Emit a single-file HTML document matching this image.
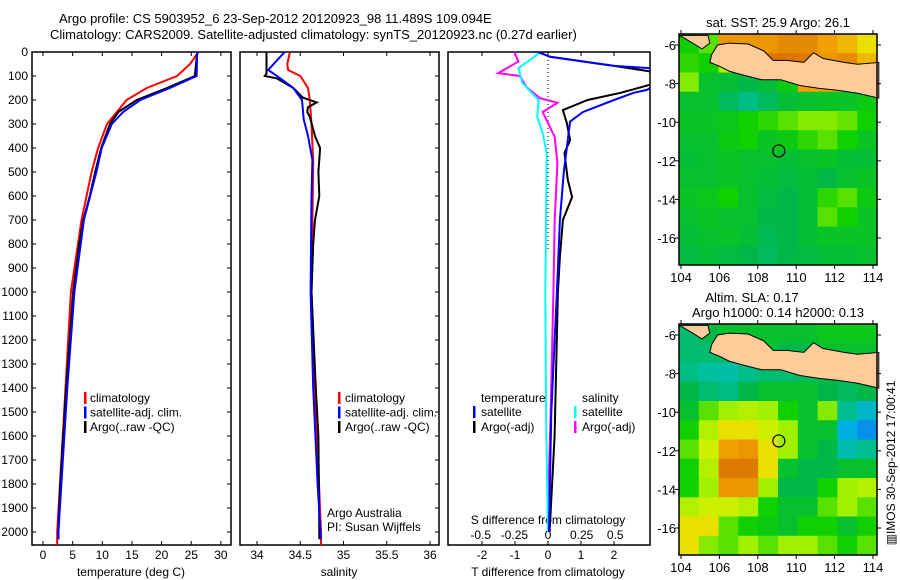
<!DOCTYPE html>
<html><head><meta charset="utf-8"><style>
body{margin:0;background:#fff;}
svg{display:block;font-family:"Liberation Sans",sans-serif;font-size:12px;}
</style></head><body>
<svg id="fig" width="900" height="580" viewBox="0 0 900 580" xmlns="http://www.w3.org/2000/svg">
<text x="59" y="23" font-size="13">Argo profile: CS 5903952_6 23-Sep-2012 20120923_98 11.489S 109.094E</text>
<text x="50" y="39" font-size="13">Climatology: CARS2009. Satellite-adjusted climatology: synTS_20120923.nc (0.27d earlier)</text>
<g id="g1"></g>
<g id="g2"></g>
<g id="g3"></g>
<g id="m1"></g>
<g id="m2"></g>
<text transform="translate(895,463) rotate(-90)" text-anchor="middle" font-size="12">▥IMOS 30-Sep-2012 17:00:41</text>
</svg>
<script>
// ---- data ----
const tDepthArgo=[0,100,150,200,250,300,400,500,600,700,800,900,1000,1400,1600,1800,2000,2030];
const tArgo=[26.0,25.6,20.9,15.8,12.7,11.3,9.8,8.8,7.9,6.8,6.1,5.6,5.1,3.9,3.4,2.9,2.6,2.6];
const tDepthClim=[0,50,100,150,200,300,400,500,700,1000,1400,2000,2060];
const tClim=[26.2,24.8,22.6,17.5,14.1,10.8,9.3,8.2,6.5,4.7,3.8,2.4,2.4];
const tDepthSat=[0,100,150,200,250,300,400,500,700,1000,1400,2000,2030];
const tSat=[26.0,25.9,21.4,16.4,13.5,11.6,9.9,9.0,6.9,5.3,4.1,2.6,2.6];
const sDepthArgo=[0,90,100,110,150,190,210,230,250,270,350,400,500,600,700,800,1000,1400,1600,2000,2030];
const sArgo=[34.11,34.11,34.09,34.23,34.42,34.53,34.69,34.59,34.58,34.61,34.67,34.73,34.71,34.72,34.67,34.65,34.63,34.68,34.71,34.72,34.72];
const sDepthClim=[0,50,75,100,150,200,300,460,1000,1400,2000,2060];
const sClim=[34.38,34.35,34.36,34.5,34.59,34.61,34.63,34.65,34.63,34.67,34.74,34.74];
const sDepthSat=[0,75,100,150,200,280,350,450,600,1000,1400,1800,2030];
const sSat=[34.32,34.13,34.23,34.42,34.52,34.54,34.59,34.64,34.63,34.62,34.65,34.7,34.74];
const dtDepthSat=[0,20,58,75,158,170,200,250,290,400,500,700,1000,1500,2000];
const dtSat=[-0.3,0.06,2.0,4.0,3.0,2.6,2.0,1.06,0.67,0.57,0.48,0.36,0.27,0.1,0.03];
const dtDepthArgo=[0,20,58,100,140,170,200,242,296,367,421,533,604,700,854,1000,1600,2000];
const dtArgo=[-0.3,0.06,2.0,4.0,3.0,2.2,1.2,0.45,0.57,0.67,0.5,0.6,0.73,0.45,0.36,0.3,0.2,0.05];
const dsDepthArgo=[0,40,88,100,146,192,212,250,296,354,462,700,1000,1500,1900];
const dsArgo=[-0.25,-0.22,-0.37,-0.21,-0.16,-0.06,0.07,-0.04,0,0.05,0.07,0.05,0.04,0.02,0];
const dsDepthSat=[0,20,67,129,200,271,337,421,1000,1500,2000];
const dsSat=[-0.06,-0.1,-0.22,-0.19,-0.07,-0.08,-0.04,-0.01,-0.02,-0.015,0];
const depthTicks=[0,100,200,300,400,500,600,700,800,900,1000,1100,1200,1300,1400,1500,1600,1700,1800,1900,2000];
const tTicks=[0,5,10,15,20,25,30];
const sTicks=[34,34.5,35,35.5,36];
const dtTicks=[-2,-1,0,1,2];
const dsTicks=[-0.5,-0.25,0,0.25,0.5];
const dsTickLabels=["-0.5","-0.25","0","0.25","0.5"];
const lonTicks=[104,106,108,110,112,114];
const latTicks=[-6,-8,-10,-12,-14,-16];
const sstGrid=[
[0.5,0.55,0.8,0.8,0.8,0.82,0.82,0.78,0.75,0.7],
[0.52,0.5,0.62,0.82,0.86,0.86,0.85,0.8,0.82,0.75],
[0.58,0.45,0.44,0.42,0.44,0.48,0.78,0.78,0.8,0.75],
[0.45,0.45,0.4,0.36,0.4,0.44,0.45,0.46,0.46,0.48],
[0.46,0.46,0.47,0.5,0.52,0.55,0.58,0.58,0.56,0.5],
[0.45,0.45,0.48,0.5,0.46,0.48,0.52,0.55,0.5,0.46],
[0.44,0.45,0.46,0.45,0.45,0.44,0.45,0.46,0.44,0.44],
[0.45,0.45,0.46,0.45,0.44,0.43,0.44,0.42,0.45,0.46],
[0.46,0.47,0.5,0.45,0.43,0.42,0.44,0.52,0.55,0.48],
[0.45,0.46,0.45,0.45,0.42,0.42,0.44,0.55,0.5,0.46],
[0.44,0.45,0.46,0.44,0.41,0.42,0.44,0.46,0.46,0.46],
[0.43,0.44,0.43,0.42,0.4,0.42,0.43,0.44,0.44,0.45]];
const slaGrid=[
[0.38,0.42,0.45,0.45,0.45,0.45,0.45,0.47,0.47,0.47],
[0.38,0.38,0.4,0.45,0.45,0.42,0.42,0.45,0.45,0.45],
[0.36,0.33,0.32,0.35,0.38,0.38,0.4,0.42,0.42,0.42],
[0.42,0.38,0.36,0.42,0.45,0.45,0.45,0.42,0.4,0.42],
[0.45,0.55,0.6,0.62,0.6,0.5,0.45,0.58,0.35,0.25],
[0.5,0.62,0.7,0.7,0.65,0.6,0.45,0.45,0.2,0.12],
[0.55,0.65,0.78,0.8,0.7,0.6,0.45,0.42,0.3,0.35],
[0.5,0.62,0.85,0.85,0.7,0.45,0.42,0.42,0.45,0.45],
[0.5,0.6,0.8,0.8,0.6,0.42,0.42,0.5,0.6,0.62],
[0.62,0.65,0.65,0.62,0.5,0.45,0.45,0.55,0.6,0.55],
[0.7,0.7,0.55,0.5,0.48,0.45,0.5,0.5,0.45,0.5],
[0.7,0.58,0.55,0.6,0.55,0.6,0.6,0.55,0.5,0.55]];
const argoLon=[109.094];
const argoLat=[-11.489];

// ---- helpers ----
const NS='http://www.w3.org/2000/svg';
function mk(tag,attrs,parent){const e=document.createElementNS(NS,tag);for(const k in attrs)e.setAttribute(k,attrs[k]);parent.appendChild(e);return e;}
const TOP=52,BOT=545;
const yD=d=>TOP+d*0.24;
const xT=t=>43+t*5.93;
const xS=s=>257+(s-34)*86.5;
const xDT=d=>548+d*33;
const xDS=d=>548+d*134.5;
function frame(g,x0,x1,name,cid){
  const cp=mk('clipPath',{id:cid},g);mk('rect',{x:x0,y:TOP,width:x1-x0,height:BOT-TOP},cp);
  const r=mk('rect',{x:x0,y:TOP,width:x1-x0,height:BOT-TOP,fill:'none',stroke:'#000','stroke-width':1.5},g);
  
}
function line(g,xs,ds,fx,color,name,cid){
  const p=mk('path',{d:xs.map((v,i)=>(i?'L':'M')+fx(v).toFixed(1)+','+yD(ds[i]).toFixed(1)).join(''),fill:'none',stroke:color,'stroke-width':2,'clip-path':'url(#'+cid+')'},g);
  
}
function txt(g,x,y,s,name,anchor,size){const t=mk('text',{x:x,y:y,'text-anchor':anchor||'start','font-size':size||12},g);t.textContent=s;return t;}
function xticks(g,vals,fx,x0,x1){vals.forEach(v=>{const x=fx(v);if(x<x0||x>x1)return;mk('line',{x1:x,y1:TOP,x2:x,y2:TOP+4,stroke:'#000'},g);mk('line',{x1:x,y1:BOT,x2:x,y2:BOT-4,stroke:'#000'},g);});}
function yticks(g,x0,x1,left){depthTicks.forEach(d=>{const y=yD(d);if(left)mk('line',{x1:x0,y1:y,x2:x0+4,y2:y,stroke:'#000'},g);mk('line',{x1:x1,y1:y,x2:x1-4,y2:y,stroke:'#000'},g);});}
function legendBar(g,x,y,color,name){const r=mk('rect',{x:x,y:y-10,width:2.5,height:12,fill:color},g);}

// ---- panel 1 ----
const g1=document.getElementById('g1');
frame(g1,32,231,'temperature-axes-frame','c1');
yticks(g1,32,231,true);xticks(g1,tTicks,xT,32,231);
depthTicks.forEach(d=>txt(g1,28,yD(d)+4,String(d),'depth-tick-label','end',12));
tTicks.forEach(v=>txt(g1,xT(v),559,String(v),'temperature-tick-label','middle',12));
txt(g1,131,576,'temperature (deg C)','temperature-axis-title','middle',12);
line(g1,tClim,tDepthClim,xT,'#f00','temperature-climatology-line','c1');
line(g1,tArgo,tDepthArgo,xT,'#000','temperature-argo-line','c1');
line(g1,tSat,tDepthSat,xT,'#00f','temperature-satellite-line','c1');
[['#f00','climatology'],['#00f','satellite-adj. clim.'],['#000','Argo(..raw -QC)']].forEach((e,i)=>{legendBar(g1,84,402+i*14.5,e[0],'legend-marker');txt(g1,90,402+i*14.5,e[1],'legend-entry','start',12);});

// ---- panel 2 ----
const g2=document.getElementById('g2');
frame(g2,240,439,'salinity-axes-frame','c2');
yticks(g2,240,439,false);xticks(g2,sTicks,xS,240,439);
sTicks.forEach(v=>txt(g2,xS(v),559,String(v),'salinity-tick-label','middle',12));
txt(g2,339,576,'salinity','salinity-axis-title','middle',12);
line(g2,sClim,sDepthClim,xS,'#f00','salinity-climatology-line','c2');
line(g2,sArgo,sDepthArgo,xS,'#000','salinity-argo-line','c2');
line(g2,sSat,sDepthSat,xS,'#00f','salinity-satellite-line','c2');
[['#f00','climatology'],['#00f','satellite-adj. clim.'],['#000','Argo(..raw -QC)']].forEach((e,i)=>{legendBar(g2,338,402+i*14.5,e[0],'legend-marker');txt(g2,345,402+i*14.5,e[1],'legend-entry','start',12);});
txt(g2,327,517,'Argo Australia','credit-argo-australia','start',12);
txt(g2,327,531,'PI: Susan Wijffels','credit-pi','start',12);

// ---- panel 3 ----
const g3=document.getElementById('g3');
frame(g3,448,650,'difference-axes-frame','c3');
xticks(g3,dtTicks,xDT,448,650);
mk('line',{x1:548,y1:TOP,x2:548,y2:250,stroke:'#000','stroke-dasharray':'1,3'},g3);
dtTicks.forEach(v=>txt(g3,xDT(v),559,String(v),'t-diff-tick-label','middle',12));
dsTicks.forEach((v,i)=>txt(g3,xDS(v),539,dsTickLabels[i],'s-diff-tick-label','middle',12));
txt(g3,548,524,'S difference from climatology','s-diff-axis-title','middle',12);
txt(g3,548,576,'T difference from climatology','t-diff-axis-title','middle',12);
line(g3,dsArgo,dsDepthArgo,xDS,'#f0f','salinity-diff-argo-line','c3');
line(g3,dsSat,dsDepthSat,xDS,'#0ff','salinity-diff-satellite-line','c3');
line(g3,dtArgo,dtDepthArgo,xDT,'#000','temperature-diff-argo-line','c3');
line(g3,dtSat,dtDepthSat,xDT,'#00f','temperature-diff-satellite-line','c3');
txt(g3,481,402,'temperature','legend-temperature-heading','start',12);
txt(g3,582,402,'salinity','legend-salinity-heading','start',12);
legendBar(g3,473,416,'#00f','legend-marker');txt(g3,481,416,'satellite','legend-entry','start',12);
legendBar(g3,473,431,'#000','legend-marker');txt(g3,481,431,'Argo(-adj)','legend-entry','start',12);
legendBar(g3,574,416,'#0ff','legend-marker');txt(g3,582,416,'satellite','legend-entry','start',12);
legendBar(g3,574,431,'#f0f','legend-marker');txt(g3,582,431,'Argo(-adj)','legend-entry','start',12);

// ---- maps ----
const stops=[[0,[16,96,255]],[0.2,[0,176,224]],[0.33,[0,192,160]],[0.42,[0,184,72]],[0.5,[16,208,0]],[0.6,[160,240,0]],[0.68,[232,240,0]],[0.78,[240,160,0]],[0.9,[208,96,0]],[1,[176,32,0]]];
function cmap(v){for(let i=1;i<stops.length;i++){if(v<=stops[i][0]){const a=stops[i-1],b=stops[i],f=(v-a[0])/(b[0]-a[0]);return 'rgb('+a[1].map((c,j)=>Math.round(c+(b[1][j]-c)*f)).join(',')+')';}}return 'rgb(176,32,0)';}
const java=[[105.6,-6.5],[105.9,-6.0],[106.5,-5.9],[107.5,-5.95],[108.3,-6.3],[108.8,-6.8],[109.5,-6.8],[110.4,-6.9],[110.9,-6.4],[111.4,-6.7],[112.5,-6.9],[113.2,-7.0],[114.3,-6.9],[114.3,-8.75],[113.2,-8.5],[112.2,-8.35],[111.2,-8.25],[110.2,-8.1],[109.2,-7.8],[108.2,-7.8],[107.2,-7.55],[106.5,-7.35],[106.0,-7.1],[105.5,-6.9]];
const sumatra=[[103.9,-5.5],[105.4,-5.5],[105.5,-5.9],[105.1,-6.2],[104.6,-5.9],[104.1,-5.6]];
function drawMap(id,top,grid,name){
  const g=document.getElementById(id);
  const L=679,R=877,T=top,B=top+231;
  const lx=lon=>681+(lon-104)*19.2, ly=lat=>(top+11)+(-6-lat)*19.3;
  const rows=grid.length,cols=grid[0].length,cw=(R-L)/cols,ch=(B-T)/rows;
  grid.forEach((row,r)=>row.forEach((v,c)=>{const e=mk('rect',{x:(L+c*cw).toFixed(2),y:(T+r*ch).toFixed(2),width:(cw+0.6).toFixed(2),height:(ch+0.6).toFixed(2),fill:cmap(v)},g);}));
  [[java,'java-land'],[sumatra,'sumatra-land']].forEach(p=>{const e=mk('polygon',{points:p[0].map(q=>lx(q[0]).toFixed(1)+','+ly(q[1]).toFixed(1)).join(' '),fill:'#ffcc99',stroke:'#000','stroke-width':1},g);});
  const f=mk('rect',{x:L,y:T,width:R-L,height:B-T,fill:'none',stroke:'#000','stroke-width':1.5},g);
  lonTicks.forEach(v=>{const x=lx(v);mk('line',{x1:x,y1:B,x2:x,y2:B+4,stroke:'#000'},g);mk('line',{x1:x,y1:T,x2:x,y2:T-4,stroke:'#000'},g);txt(g,x,B+17,String(v),'lon-tick-label','middle',13);});
  latTicks.forEach(v=>{const y=ly(v);mk('line',{x1:L,y1:y,x2:L-4,y2:y,stroke:'#000'},g);mk('line',{x1:R,y1:y,x2:R+4,y2:y,stroke:'#000'},g);txt(g,676,y+5,String(v),'lat-tick-label','end',13);});
  argoLon.forEach((lo,i)=>{const c=mk('circle',{cx:lx(lo),cy:ly(argoLat[i]),r:6,fill:'none',stroke:'#000','stroke-width':1.2},g);});
}
drawMap('m1',34,sstGrid,'sst-map');
drawMap('m2',324,slaGrid,'sla-map');
const m1=document.getElementById('m1'),m2=document.getElementById('m2');
txt(m1,778,27,'sat. SST: 25.9 Argo: 26.1','sst-map-title','middle',13);
txt(m2,752,302,'Altim. SLA: 0.17','sla-map-title','middle',13);
txt(m2,778,317,'Argo h1000: 0.14 h2000: 0.13','sla-map-subtitle','middle',13);
</script>
</body></html>
